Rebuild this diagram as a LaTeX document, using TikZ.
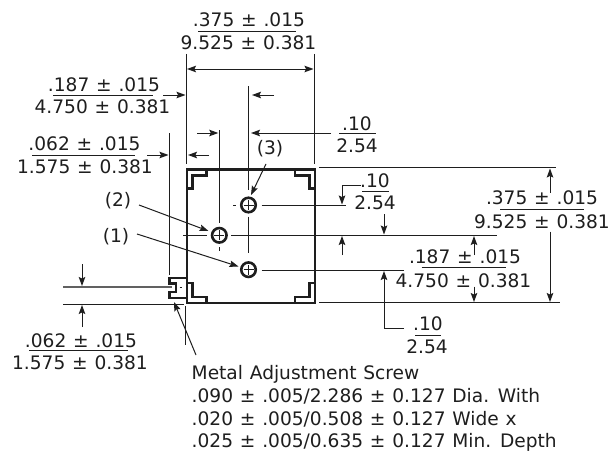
\documentclass[tikz,border=0pt]{standalone}
\usepackage{fontspec}
\setmainfont[WordSpace=1.15]{DejaVu Sans}
\usetikzlibrary{arrows.meta}
\definecolor{ink}{HTML}{1E1E1E}
\tikzset{
  dimline/.style={draw=ink,line width=1pt},
  arrowed/.style={dimline,-{Stealth[length=9pt,width=6.5pt,inset=1.5pt]}},
  body/.style={draw=ink,line width=2.4pt,line join=miter},
  lbl/.style={inner sep=0pt,anchor=base,text=ink,font=\fontsize{18.6}{22}\selectfont},
  left lbl/.style={lbl,anchor=base west},
  hole/.style={circle,draw=ink,line width=2.6pt,minimum size=14.5pt,inner sep=0pt,
    path picture={\draw[ink,line width=1pt] (path picture bounding box.center)+(-5pt,0)--+(5pt,0);
      \draw[ink,line width=1pt] (path picture bounding box.center)+(0,-5pt)--+(0,5pt);}}
}
\begin{document}
\begin{tikzpicture}[x=1pt,y=-1pt]
\useasboundingbox (0,0) rectangle (615,452);
\fill[white] (0,0) rectangle (615,452);
% body
\draw[body] (186.7,169.3) rectangle (315,302.7);
\draw[body] (206.5,170)--(206.5,175.5)--(192.5,175.5)--(192.5,188.3)--(187,188.3);
\draw[body] (295,170)--(295,175.5)--(309.5,175.5)--(309.5,188.3)--(315,188.3);
\draw[body] (206.5,302)--(206.5,296.7)--(192.5,296.7)--(192.5,283)--(187,283);
\draw[body] (295,302)--(295,296.7)--(309.5,296.7)--(309.5,283)--(315,283);
% screw
\draw[body] (186.7,278)--(169.5,278)--(169.5,283.5)--(176,283.5)--(176,292)--(169.5,292)--(169.5,297.7)--(186.7,297.7);
\draw[dimline] (179.5,287)--(181.5,287);
% holes
\node[hole] (h3) at (248.5,205) {};
\node[hole] (h2) at (219.3,235.3) {};
\node[hole] (h1) at (248.5,269.7) {};
% extension lines
\draw[dimline] (186.5,54)--(186.5,164);
\draw[dimline] (314,54)--(314,164);
\draw[dimline] (248.5,86)--(248.5,190);
\draw[dimline] (248.5,216.7)--(248.5,253);
\draw[dimline] (219.3,130)--(219.3,222.7);
\draw[dimline] (219.3,247)--(219.3,251);
\draw[dimline] (169.5,133)--(169.5,275);
\draw[dimline] (185.5,306)--(185.5,345);
\draw[dimline] (233,205)--(236,205);
\draw[dimline] (261.7,205.5)--(346,205.5);
\draw[dimline] (183.3,235.3)--(207.3,235.3);
\draw[dimline] (231,235.3)--(496.7,235.3);
\draw[dimline] (261.7,270)--(404,270);
\draw[dimline] (319,167.7)--(555.7,167.7);
\draw[dimline] (319,302.7)--(560,302.7);
\draw[draw=ink!70,line width=1.6pt] (63,287)--(172,287);
\draw[dimline] (63,304)--(184,304);
% top dimension
\draw[arrowed,{Stealth[length=9pt,width=6.5pt,inset=1.5pt]}-{Stealth[length=9pt,width=6.5pt,inset=1.5pt]}] (187,69)--(313.5,69);
\draw[arrowed] (163,95)--(185.5,95);
\draw[arrowed] (274,95)--(252,95);
\draw[arrowed] (147,155)--(168.5,155);
\draw[arrowed] (209,155)--(188,155);
\draw[arrowed] (197,133)--(218.3,133);
\draw[arrowed] (331,133)--(251,133);
% leaders
\draw[arrowed] (266,164)--(251,195);
\draw[arrowed] (139,205)--(208.5,231);
\draw[arrowed] (137,234)--(238.5,266.5);
\draw[arrowed] (196,355)--(174,302);
% right dimensions
\draw[arrowed] (550,192.7)--(550,168.5);
\draw[arrowed] (550,231.7)--(550,302);
\draw[arrowed] (474,255)--(474,236);
\draw[arrowed] (474,286.7)--(474,302);
\draw[arrowed] (361,185.7)--(342,185.7)--(342,204.5);
\draw[arrowed] (384,214)--(384,234.5);
\draw[arrowed] (342,255)--(342,236);
\draw[arrowed] (404,328)--(384,328)--(384,271);
\draw[arrowed] (82,264)--(82,286);
\draw[arrowed] (82,327)--(82,305);
% fraction rules
\draw[dimline] (198,31.5)--(296,31.5);
\draw[dimline] (53,95.5)--(153,95.5);
\draw[dimline] (32,155)--(135,155);
\draw[dimline] (339,133.3)--(376,133.3);
\draw[dimline] (362,191)--(389,191);
\draw[dimline] (500,209)--(584,209);
\draw[dimline] (421.7,267.7)--(505.7,267.7);
\draw[dimline] (415,335)--(441,335);
\draw[dimline] (29,350.7)--(128,350.7);
% labels
\node[lbl] (t1) at (249,26.5) {.375 ± .015};
\node[lbl] (t2) at (248.5,49.5) {9.525 ± 0.381};
\node[lbl] (a1) at (104,91.5) {.187 ± .015};
\node[lbl] (a2) at (102.5,113.5) {4.750 ± 0.381};
\node[lbl] (b1) at (84.5,150.5) {.062 ± .015};
\node[lbl] (b2) at (85,173.5) {1.575 ± 0.381};
\node[lbl] (c1) at (357,130.5) {.10};
\node[lbl] (c2) at (357,152.7) {2.54};
\node[lbl] (d1) at (375,187.7) {.10};
\node[lbl] (d2) at (375,209) {2.54};
\node[lbl] (e1) at (542,204.7) {.375 ± .015};
\node[lbl] (e2) at (542,228.4) {9.525 ± 0.381};
\node[lbl] (f1) at (465,263.7) {.187 ± .015};
\node[lbl] (f2) at (463.5,287.4) {4.750 ± 0.381};
\node[lbl] (g1) at (428,330.7) {.10};
\node[lbl] (g2) at (427,353.7) {2.54};
\node[lbl] (k1) at (81,347.4) {.062 ± .015};
\node[lbl] (k2) at (80,369.7) {1.575 ± 0.381};
\node[lbl] (n3) at (270,154.7) {(3)};
\node[lbl] (n2) at (118,206.7) {(2)};
\node[lbl] (n1) at (116,242) {(1)};
\node[left lbl] (m1) at (191.5,379.7) {Metal Adjustment Screw};
\node[left lbl] (m2) at (191.5,402.4) {.090 ± .005/2.286 ± 0.127 Dia. With};
\node[left lbl] (m3) at (191.5,425) {.020 ± .005/0.508 ± 0.127 Wide x};
\node[left lbl] (m4) at (191.5,447.7) {.025 ± .005/0.635 ± 0.127 Min. Depth};
\end{tikzpicture}
\end{document}
